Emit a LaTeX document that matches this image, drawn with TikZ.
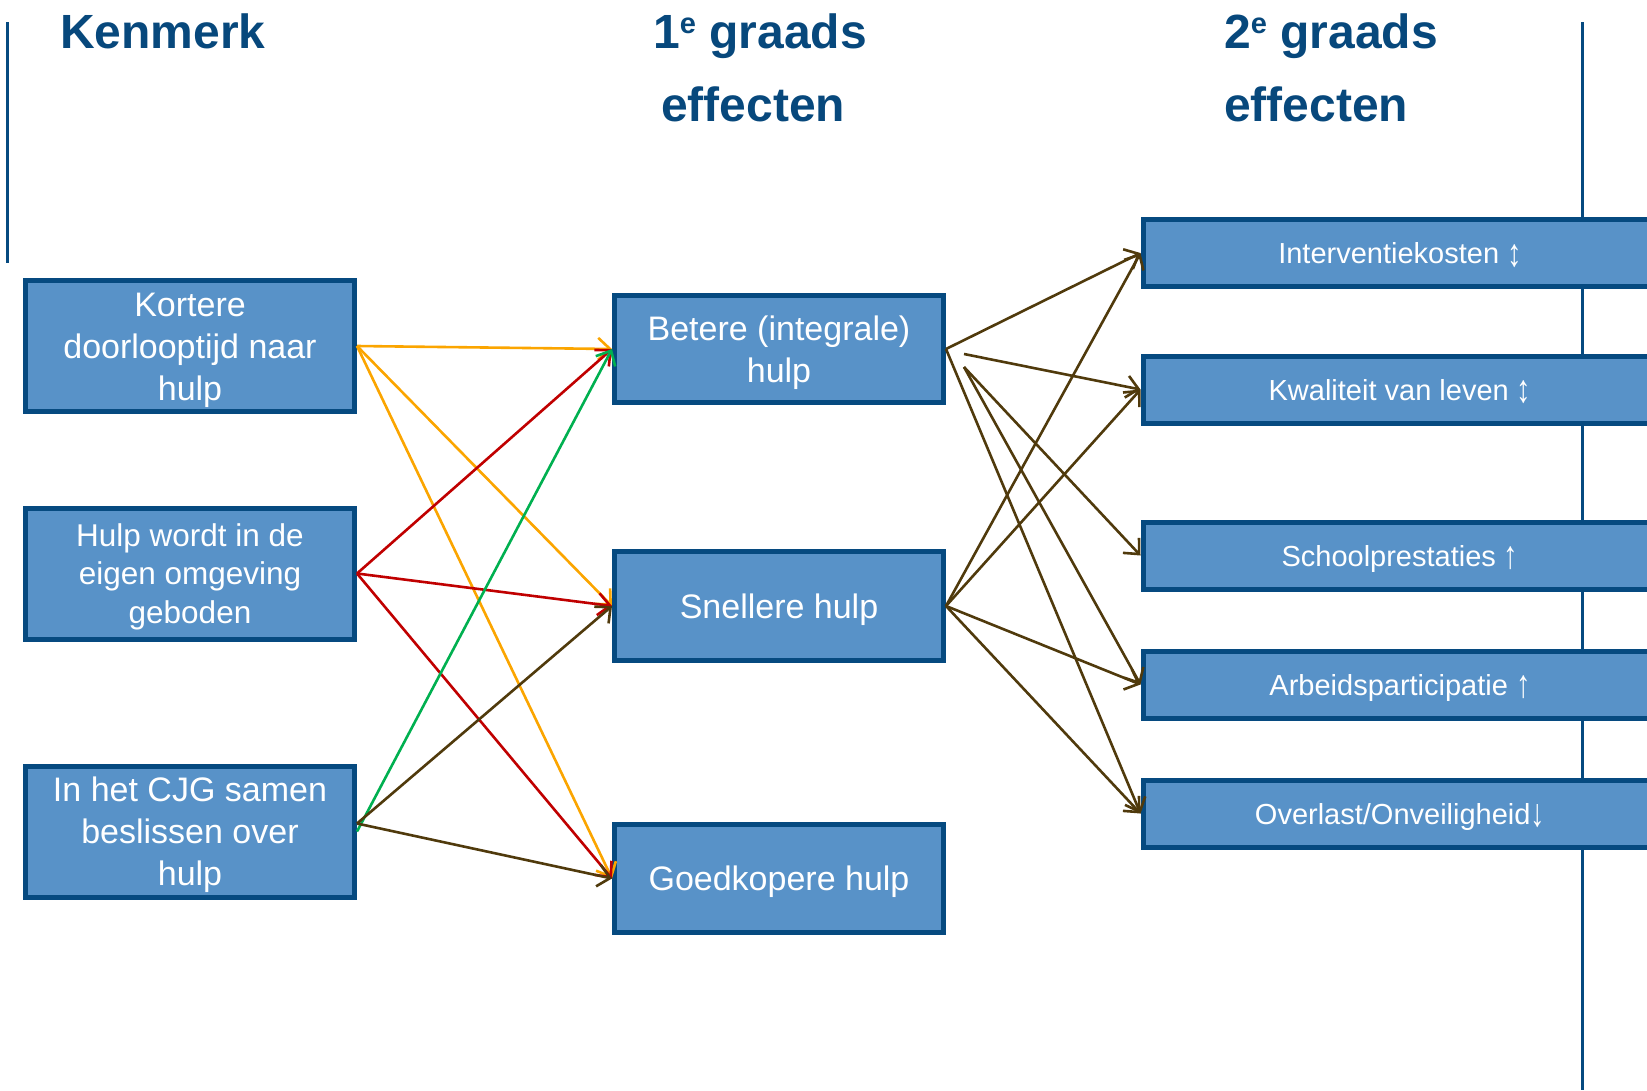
\documentclass[tikz,border=0pt]{standalone}
\usepackage{fontspec}
\setmainfont{Liberation Sans}
\usetikzlibrary{arrows.meta}
\definecolor{boxfill}{HTML}{5892C8}
\definecolor{boxline}{HTML}{064A80}
\definecolor{hdr}{HTML}{07487C}
\definecolor{corange}{HTML}{FBA500}
\definecolor{cred}{HTML}{C00000}
\definecolor{cgreen}{HTML}{00B050}
\definecolor{cbrown}{HTML}{503A0C}
% #1 = height of the first baseline above the box centre
\newcommand\boxtext[2]{\raisebox{#1}[0pt][0pt]{\begin{tabular}[t]{@{}c@{}}#2\end{tabular}}}
\newcommand\arw[1]{\raisebox{-2.5pt}{\scalebox{1}[1.35]{#1}}}
\begin{document}
\begin{tikzpicture}[x=1pt,y=-1pt,
  box/.style={draw=boxline, fill=boxfill, line width=5pt, inner sep=0pt, text=white},
  leftbox/.style={box, minimum width=329pt, minimum height=131pt, font=\fontsize{34}{42}\selectfont},
  midbox/.style={box, minimum width=329pt, minimum height=108pt, font=\fontsize{34}{42}\selectfont},
  rightbox/.style={box, minimum width=514pt, minimum height=67pt, font=\fontsize{29}{34}\selectfont},
  hdrtxt/.style={anchor=base west, inner sep=0pt, text=hdr, font=\fontsize{48}{48}\selectfont\bfseries},
  sideline/.style={draw=boxline, line width=3pt},
  conn/.style={line width=2.6pt, -{Straight Barb[length=12pt,width=22pt]}}
]
\useasboundingbox (0,0) rectangle (1647,1090);
\clip (0,0) rectangle (1647,1090);

% side lines
\coordinate (lt) at (7.5,22);
\coordinate (lb) at (7.5,263);
\coordinate (rt) at (1582,22);
\coordinate (rb) at (1582,1090);
\draw[sideline] (lt) -- (lb);
\draw[sideline] (rt) -- (rb);

% headers
\node[hdrtxt] (h1) at (60,48) {Kenmerk};
\node[hdrtxt] (h2a) at (653,48) {1\raisebox{15pt}{\fontsize{29}{29}\selectfont e} graads};
\node[hdrtxt] (h2b) at (661,121) {effecten};
\node[hdrtxt] (h3a) at (1224,48) {2\raisebox{15pt}{\fontsize{29}{29}\selectfont e} graads};
\node[hdrtxt] (h3b) at (1224,121) {effecten};

% left boxes
\node[leftbox] (k1) at (190,346) {\boxtext{29.8pt}{Kortere\\doorlooptijd naar\\hulp}};
\node[leftbox, font=\fontsize{31.5}{38.5}\selectfont] (k2) at (190,573.5) {\boxtext{27.2pt}{Hulp wordt in de\\eigen omgeving\\geboden}};
\node[leftbox] (k3) at (190,831.5) {\boxtext{29.8pt}{In het CJG samen\\beslissen over\\hulp}};

% middle boxes
\node[midbox, minimum height=107pt] (m1) at (779,349) {\boxtext{8.8pt}{Betere (integrale)\\hulp}};
\node[midbox, minimum height=109pt] (m2) at (779,606) {\boxtext{-12.2pt}{Snellere hulp}};
\node[midbox] (m3) at (779,878.5) {\boxtext{-12.2pt}{Goedkopere hulp}};

% right boxes
\node[rightbox] (r1) at (1400,253) {\boxtext{-10.7pt}{Interventiekosten \arw{↕}}};
\node[rightbox] (r2) at (1400,389.5) {\boxtext{-10.7pt}{Kwaliteit van leven \arw{↕}}};
\node[rightbox] (r3) at (1400,555.5) {\boxtext{-10.7pt}{Schoolprestaties \arw{↑}}};
\node[rightbox] (r4) at (1400,684.5) {\boxtext{-10.7pt}{Arbeidsparticipatie \arw{↑}}};
\node[rightbox] (r5) at (1400,813.5) {\boxtext{-10.7pt}{Overlast/Onveiligheid\arw{↓}}};

% left -> middle
\draw[conn, corange] (k1.east) -- (m1.west);
\draw[conn, corange] (k1.east) -- (m2.west);
\draw[conn, corange] (k1.east) -- (m3.west);
\draw[conn, cred] (k2.east) -- (m1.west);
\draw[conn, cred] (k2.east) -- (m2.west);
\draw[conn, cred] (k2.east) -- (m3.west);
\draw[conn, cgreen] (k3.east) -- (m1.west);
\draw[conn, cbrown] ([yshift=8pt]k3.east) -- (m2.west);
\draw[conn, cbrown] ([yshift=8pt]k3.east) -- (m3.west);

% middle -> right
\draw[conn, cbrown] (m1.east) -- (r1.west);
\draw[conn, cbrown] ([xshift=18pt,yshift=-5pt]m1.east) -- (r2.west);
\draw[conn, cbrown] ([xshift=18pt,yshift=-18pt]m1.east) -- (r3.west);
\draw[conn, cbrown] ([xshift=18pt,yshift=-18pt]m1.east) -- (r4.west);
\draw[conn, cbrown] (m1.east) -- (r5.west);
\draw[conn, cbrown] (m2.east) -- (r1.west);
\draw[conn, cbrown] (m2.east) -- (r2.west);
\draw[conn, cbrown] (m2.east) -- (r4.west);
\draw[conn, cbrown] (m2.east) -- (r5.west);
\end{tikzpicture}
\end{document}
